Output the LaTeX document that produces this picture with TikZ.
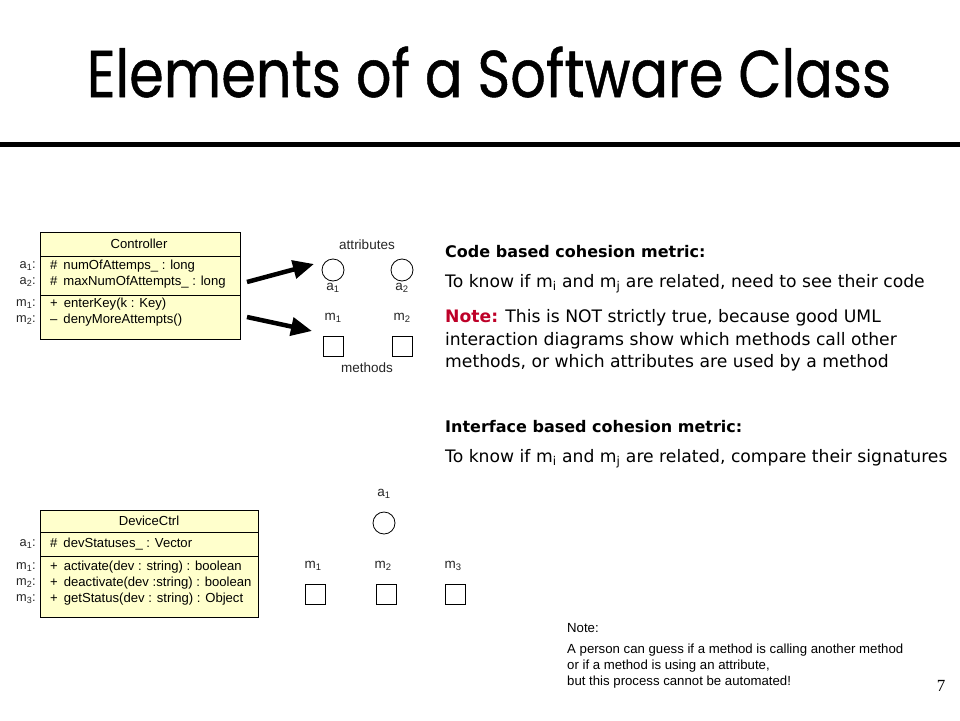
\documentclass[tikz,border=0pt]{standalone}
\usepackage{fontspec}
\setmainfont{Liberation Sans}
\newfontfamily\comic{DejaVu Sans}
\newfontfamily\titlefont[FakeBold=0.8]{Poppins}
\newfontfamily\serifpn{Liberation Serif}
\usetikzlibrary{arrows.meta}
\definecolor{umlfill}{RGB}{255,255,204}
\definecolor{notered}{RGB}{190,0,40}
\begin{document}
\begin{tikzpicture}[x=1pt,y=-1pt,
  umlbox/.style={draw=black, line width=0.8pt, fill=umlfill, inner sep=0, anchor=north west},
  umltext/.style={font=\fontsize{13.1}{15}\selectfont, anchor=west, inner sep=0},
  umlname/.style={font=\fontsize{13.1}{15}\selectfont, inner sep=0},
  lbl/.style={font=\fontsize{13.5}{15}\selectfont, inner sep=0, text=black!85},
  sidelbl/.style={font=\fontsize{12.8}{14}\selectfont, inner sep=0, text=black!85, anchor=east},
  bigarrow/.style={line width=4.5pt, -{Triangle[length=21pt,width=18pt]}},
  attrc/.style={circle, draw, line width=0.8pt, minimum size=22pt, inner sep=0},
  methsq/.style={rectangle, draw, line width=0.8pt, minimum size=20pt, inner sep=0},
  comictext/.style={font=\comic\fontsize{17.2}{22}\selectfont, anchor=west, inner sep=0},
  comicbold/.style={font=\comic\bfseries\fontsize{16}{22}\selectfont, anchor=west, inner sep=0},
  notetext/.style={font=\fontsize{13.2}{15}\selectfont, anchor=west, inner sep=0},
]
\useasboundingbox (0,0) rectangle (960,720);
\fill[white] (0,0) rectangle (960,720);

% title
\node[font=\titlefont\fontsize{60}{62}\selectfont, anchor=base, inner sep=0] (title) at (489,97) {\scalebox{0.93}[1.1]{Elements of a Software Class}};
\coordinate (ruleL) at (0,144.5);
\coordinate (ruleR) at (960,144.5);
\draw[line width=5pt] (ruleL) -- (ruleR);

% Controller class
\node[umlbox, minimum width=200pt, minimum height=107pt] (ctrl) at (40,232) {};
\draw[line width=0.8pt] (40,256) -- (240,256);
\draw[line width=0.8pt] (40,295) -- (240,295);
\node[umlname] (ctrlname) at (139,244) {Controller};
\node[umltext] (ca1) at (50,266) {\#\hspace{6pt}numOfAttemps\_ : long};
\node[umltext] (ca2) at (50,282) {\#\hspace{6pt}maxNumOfAttempts\_ : long};
\node[umltext] (cm1) at (50,304) {+\hspace{6pt}enterKey(k : Key)};
\node[umltext] (cm2) at (50,320) {–\hspace{6pt}denyMoreAttempts()};
\node[sidelbl] (la1) at (36,266) {a\textsubscript{1}:};
\node[sidelbl] (la2) at (36,282) {a\textsubscript{2}:};
\node[sidelbl] (lm1) at (36,304) {m\textsubscript{1}:};
\node[sidelbl] (lm2) at (36,320) {m\textsubscript{2}:};

% arrows
\coordinate (ar1s) at (247,282);
\coordinate (ar1e) at (314,264);
\coordinate (ar2s) at (247,317);
\coordinate (ar2e) at (312,331);
\draw[bigarrow] (ar1s) -- (ar1e);
\draw[bigarrow] (ar2s) -- (ar2e);

% top attributes / methods
\node[lbl] (attrs) at (367,245) {attributes};
\node[attrc] (c1) at (333,270) {};
\node[attrc] (c2) at (402,270) {};
\node[lbl] (c1l) at (333,288) {a\textsubscript{1}};
\node[lbl] (c2l) at (402,288) {a\textsubscript{2}};
\node[lbl] (s1l) at (333,318) {m\textsubscript{1}};
\node[lbl] (s2l) at (402,318) {m\textsubscript{2}};
\node[methsq] (s1) at (333,346) {};
\node[methsq] (s2) at (402,346) {};
\node[lbl] (meths) at (367,368) {methods};

% DeviceCtrl class
\node[umlbox, minimum width=218pt, minimum height=107pt] (dev) at (40,510) {};
\draw[line width=0.8pt] (40,532) -- (258,532);
\draw[line width=0.8pt] (40,556) -- (258,556);
\node[umlname] (devname) at (149,521) {DeviceCtrl};
\node[umltext] (da1) at (50,544) {\#\hspace{6pt}devStatuses\_ : Vector};
\node[umltext] (dm1) at (50,567) {+\hspace{6pt}activate(dev : string) : boolean};
\node[umltext] (dm2) at (50,583) {+\hspace{6pt}deactivate(dev :string) : boolean};
\node[umltext] (dm3) at (50,599) {+\hspace{6pt}getStatus(dev : string) : Object};
\node[sidelbl] (lda1) at (36,544) {a\textsubscript{1}:};
\node[sidelbl] (ldm1) at (36,567) {m\textsubscript{1}:};
\node[sidelbl] (ldm2) at (36,583) {m\textsubscript{2}:};
\node[sidelbl] (ldm3) at (36,599) {m\textsubscript{3}:};

% bottom attributes / methods
\node[lbl] (bc1l) at (384,494) {a\textsubscript{1}};
\node[attrc] (bc1) at (384,523) {};
\node[lbl] (bs1l) at (313,566) {m\textsubscript{1}};
\node[lbl] (bs2l) at (383,566) {m\textsubscript{2}};
\node[lbl] (bs3l) at (453,566) {m\textsubscript{3}};
\node[methsq] (bs1) at (315,594) {};
\node[methsq] (bs2) at (386,594) {};
\node[methsq] (bs3) at (455,594) {};

% right text
\node[comicbold] (t1) at (445,252) {Code based cohesion metric:};
\node[comictext] (t2) at (445,284) {To know if m\textsubscript{i} and m\textsubscript{j} are related, need to see their code};
\node[comictext] (t3) at (445,318) {{\color{notered}\bfseries Note:} This is NOT strictly true, because good UML};
\node[comictext] (t4) at (445,341) {interaction diagrams show which methods call other};
\node[comictext] (t5) at (445,363) {methods, or which attributes are used by a method};
\node[comicbold] (t6) at (445,427) {Interface based cohesion metric:};
\node[comictext] (t7) at (445,459) {To know if m\textsubscript{i} and m\textsubscript{j} are related, compare their signatures};

% bottom note
\node[notetext] (n0) at (567,628) {Note:};
\node[notetext] (n1) at (567,650) {A person can guess if a method is calling another method};
\node[notetext] (n2) at (567,666) {or if a method is using an attribute,};
\node[notetext] (n3) at (567,682) {but this process cannot be automated!};
\node[font=\serifpn\fontsize{17}{19}\selectfont, inner sep=0] (pn) at (941,686) {7};
\end{tikzpicture}
\end{document}
